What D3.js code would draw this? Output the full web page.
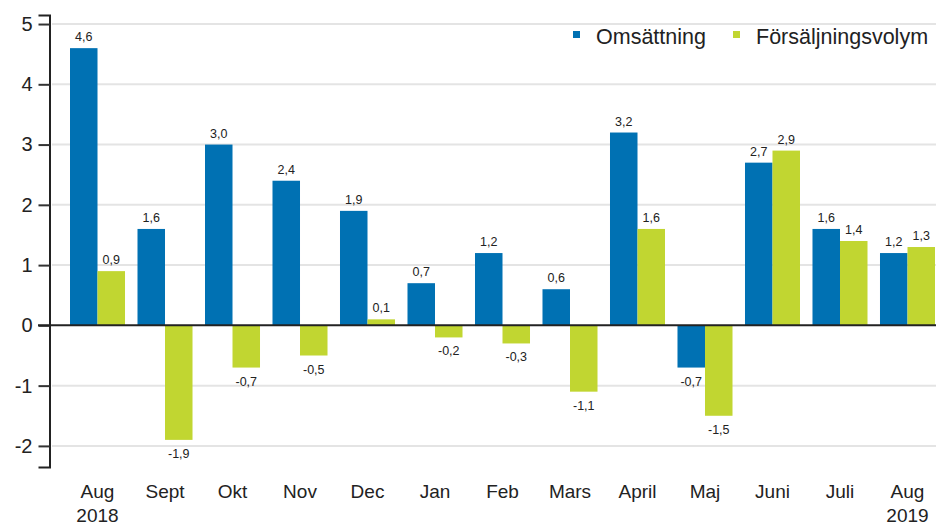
<!DOCTYPE html>
<html>
<head>
<meta charset="utf-8">
<script src="https://cdn.jsdelivr.net/npm/d3@7"></script>
<style>
  body { margin: 0; background: #fff; }
  svg { display: block; font-family: "Liberation Sans", Arial, sans-serif; }
</style>
</head>
<body>
<svg id="chart" width="936" height="526"></svg>
<script>
const months = ['Aug', 'Sept', 'Okt', 'Nov', 'Dec', 'Jan', 'Feb', 'Mars', 'April', 'Maj', 'Juni', 'Juli', 'Aug'];
const years = ['2018', '', '', '', '', '', '', '', '', '', '', '', '2019'];
const omsattning = [4.6, 1.6, 3.0, 2.4, 1.9, 0.7, 1.2, 0.6, 3.2, -0.7, 2.7, 1.6, 1.2];
const volym = [0.9, -1.9, -0.7, -0.5, 0.1, -0.2, -0.3, -1.1, 1.6, -1.5, 2.9, 1.4, 1.3];
const seriesNames = ['Omsättning', 'Försäljningsvolym'];
const colors = ['#0071b3', '#c1d631'];
const yTicks = [-2, -1, 0, 1, 2, 3, 4, 5];

const svg = d3.select('#chart');
const fmt = (v) => v.toFixed(1).replace('.', ',');

const x = d3.scaleBand()
  .domain(d3.range(months.length))
  .range([70, 935])
  .paddingInner(0.185)
  .paddingOuter(0);

const x1 = d3.scaleBand()
  .domain([0, 1])
  .range([0, x.bandwidth()]);

const y = d3.scaleLinear()
  .domain([-2.35, 5.15])
  .range([467, 15]);

// grid lines
svg.append('g')
  .selectAll('line')
  .data(yTicks.filter((d) => d !== 0))
  .join('line')
  .attr('x1', 52)
  .attr('x2', 936)
  .attr('y1', (d) => y(d))
  .attr('y2', (d) => y(d))
  .attr('stroke', '#e4e4e4')
  .attr('stroke-width', 2);

// y axis
const yAxis = svg.append('g')
  .attr('transform', 'translate(49.5,0)')
  .call(d3.axisLeft(y).tickValues(yTicks).tickSize(11).tickPadding(6).tickFormat(d3.format('d')));
yAxis.select('.domain').attr('stroke', '#222').attr('stroke-width', 2);
yAxis.selectAll('.tick line').attr('stroke', '#333').attr('stroke-width', 2);
yAxis.selectAll('.tick text')
  .attr('font-size', 20)
  .attr('fill', '#222')
  .text((d) => (d < 0 ? '-' + Math.abs(d) : d));

const series = [omsattning, volym];
const groups = svg.append('g')
  .selectAll('g')
  .data(months)
  .join('g')
  .attr('transform', (d, i) => `translate(${x(i)},0)`);

series.forEach((vals, s) => {
  groups.append('rect')
    .attr('x', x1(s))
    .attr('width', x1.bandwidth())
    .attr('y', (d, i) => y(Math.max(0, vals[i])))
    .attr('height', (d, i) => Math.abs(y(vals[i]) - y(0)))
    .attr('fill', colors[s]);

  groups.append('text')
    .attr('x', x1(s) + x1.bandwidth() / 2)
    .attr('y', (d, i) => (vals[i] >= 0 ? y(vals[i]) - 7 : y(vals[i]) + 18))
    .attr('text-anchor', 'middle')
    .attr('font-size', 12.5)
    .attr('fill', '#222')
    .text((d, i) => fmt(vals[i]));
});

// zero line
svg.append('line')
  .attr('x1', 38)
  .attr('x2', 936)
  .attr('y1', y(0))
  .attr('y2', y(0))
  .attr('stroke', '#222')
  .attr('stroke-width', 2);

// x labels
const xl = svg.append('g')
  .selectAll('text')
  .data(months)
  .join('text')
  .attr('x', (d, i) => x(i) + x.bandwidth() / 2)
  .attr('y', 498)
  .attr('text-anchor', 'middle')
  .attr('font-size', 19)
  .attr('fill', '#222');
xl.append('tspan').text((d) => d);
xl.append('tspan')
  .attr('x', (d, i) => x(i) + x.bandwidth() / 2)
  .attr('dy', 24)
  .text((d, i) => years[i]);

// legend
const legendX = [573, 733];
const legend = svg.append('g')
  .selectAll('g')
  .data(seriesNames)
  .join('g')
  .attr('transform', (d, i) => `translate(${legendX[i]},0)`);
legend.append('rect')
  .attr('x', 0)
  .attr('y', 31)
  .attr('width', 7)
  .attr('height', 7)
  .attr('fill', (d, i) => colors[i]);
legend.append('text')
  .attr('x', 23)
  .attr('y', 44)
  .attr('font-size', 21.5)
  .attr('fill', '#222')
  .text((d) => d);
</script>
</body>
</html>
